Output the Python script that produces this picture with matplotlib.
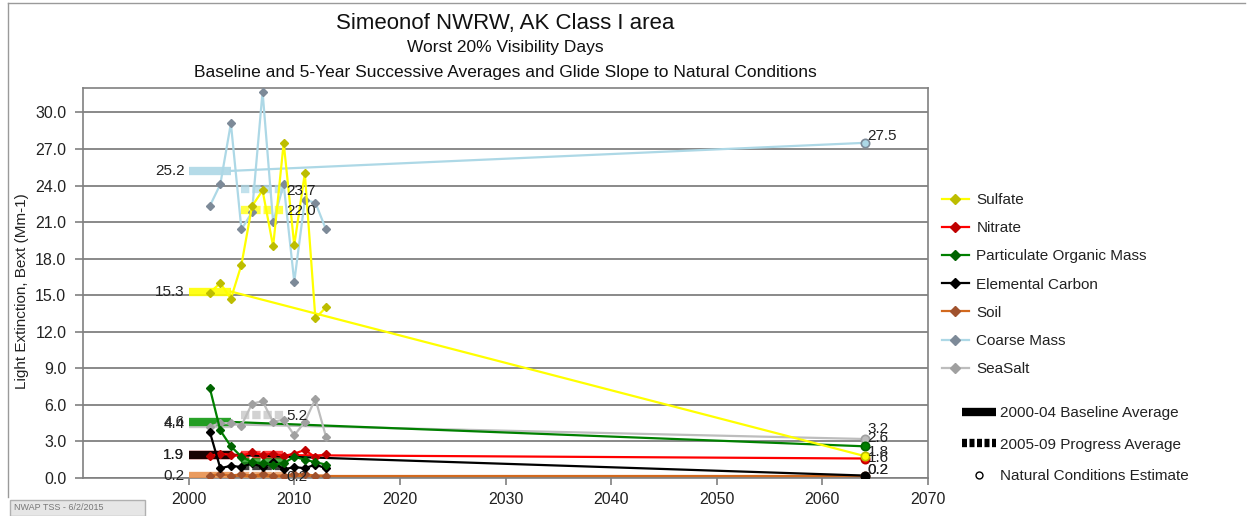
import matplotlib
matplotlib.use("Agg")
import matplotlib.pyplot as plt
from matplotlib.lines import Line2D
from matplotlib.patches import Rectangle

plt.rcParams['font.family'] = ['Liberation Sans', 'DejaVu Sans']

# ---------------- data ----------------
years = [2002, 2003, 2004, 2005, 2006, 2007, 2008, 2009, 2010, 2011, 2012, 2013]
species = ["Sulfate", "Nitrate", "Particulate Organic Mass", "Elemental Carbon",
           "Soil", "Coarse Mass", "SeaSalt"]

sulfate = [15.2, 16.0, 14.7, 17.5, 22.3, 23.6, 19.0, 27.5, 19.1, 25.0, 13.1, 14.0]
nitrate = [1.8, 2.0, 1.9, 1.8, 2.1, 1.9, 2.0, 1.8, 2.0, 2.3, 1.7, 2.0]
pom = [7.4, 3.9, 2.6, 1.75, 1.3, 1.2, 1.1, 1.2, 1.75, 1.5, 1.3, 1.1]
ec = [3.8, 0.8, 1.0, 0.9, 1.2, 0.9, 1.3, 0.7, 0.9, 0.8, 1.1, 0.8]
soil = [0.2, 0.3, 0.2, 0.3, 0.2, 0.3, 0.2, 0.2, 0.3, 0.3, 0.2, 0.2]
coarse = [22.3, 24.1, 29.1, 20.4, 21.8, 31.7, 21.0, 24.1, 16.1, 22.8, 22.6, 20.4]
seasalt = [4.2, 4.5, 4.5, 4.3, 6.1, 6.3, 4.6, 4.8, 3.5, 4.6, 6.5, 3.4]

baseline_avg = [15.3, 1.9, 4.6, 1.9, 0.2, 25.2, 4.4]
progress_avg = [22.0, 1.9, 1.3, 0.95, 0.2, 23.7, 5.2]
natural_est = [1.8, 1.6, 2.6, 0.2, 0.2, 27.5, 3.2]

baseline_years = [2000, 2004]
progress_years = [2005, 2009]
natural_year = 2064

# which labels are shown
show_baseline_label = [True, True, True, True, True, True, True]
show_progress_label = [True, False, False, False, True, True, True]
show_natural_label = [True, True, True, True, True, True, True]

series = [sulfate, nitrate, pom, ec, soil, coarse, seasalt]
line_colors = ["#FFFF00", "#FF0000", "#008000", "#000000", "#D2691E", "#ADD8E6", "#BDBDBD"]
marker_colors = ["#BDBD00", "#C00000", "#006400", "#000000", "#A0522D", "#7D8A98", "#A0A0A0"]
avg_colors = ["#FFFF00", "#FF0000", "#119911", "#000000", "#E8914F", "#ADD8E6", "#C4C4C4"]
zorders = [8, 5, 7, 6, 4, 2, 3]
nat_label_dy = [3, 0, 6, 4, 4, 5, 7]

# ---------------- figure ----------------
W, H = 1252, 516
fig = plt.figure(figsize=(W / 100, H / 100), dpi=100)
fig.patch.set_facecolor("white")

L, R, T, B = 83, 928, 88, 478
ax = fig.add_axes([L / W, 1 - B / H, (R - L) / W, (B - T) / H])
ax.set_xlim(1990, 2070)
ax.set_ylim(0, 32.0)

ax.set_yticks([0, 3, 6, 9, 12, 15, 18, 21, 24, 27, 30])
ax.set_yticklabels([f"{v:.1f}" for v in ax.get_yticks()])
ax.set_xticks(list(range(2000, 2071, 10)))
ax.grid(axis="y", color="#808080", linewidth=1.3)
ax.set_axisbelow(True)
for s in ax.spines.values():
    s.set_color("#808080")
    s.set_linewidth(1.2)
ax.tick_params(axis="y", length=6, width=1.2, color="#808080", pad=6, labelsize=11.5,
               labelcolor="#222222")
ax.tick_params(axis="x", length=5, width=1.2, color="#808080", pad=5, labelsize=11.5,
               labelcolor="#222222")
ax.set_ylabel("Light Extinction, Bext (Mm-1)", fontsize=11, color="#222222")
ax.yaxis.set_label_coords(-0.064, 0.48)

for i, name in enumerate(species):
    z = zorders[i]
    # annual values
    ax.plot(years, series[i], color=line_colors[i], linewidth=1.6, marker="D",
            markersize=4.5, markerfacecolor=marker_colors[i],
            markeredgecolor=marker_colors[i], zorder=z + 10)
    # baseline average
    ax.plot(baseline_years, [baseline_avg[i]] * 2, color=avg_colors[i],
            linewidth=6, solid_capstyle="butt", alpha=0.9, zorder=z)
    # progress average
    ax.plot(progress_years, [progress_avg[i]] * 2, color=avg_colors[i],
            linewidth=6, linestyle=(0, (1.0, 0.35)), dash_capstyle="butt",
            alpha=0.75, zorder=z)
    # glide slope
    ax.plot([baseline_years[1], natural_year], [baseline_avg[i], natural_est[i]],
            color=line_colors[i], linewidth=1.6, zorder=z)
    # natural conditions
    ax.plot([natural_year], [natural_est[i]], marker="o", markersize=6,
            markerfacecolor=line_colors[i], markeredgecolor=marker_colors[i],
            markeredgewidth=1.2, linestyle="none", zorder=z + 20)
    if show_baseline_label[i]:
        ax.annotate(f"{baseline_avg[i]:.1f}", (baseline_years[0], baseline_avg[i]),
                    xytext=(-3, 0), textcoords="offset points", ha="right",
                    va="center", fontsize=11, color="#222222", zorder=40)
    if show_progress_label[i]:
        ax.annotate(f"{progress_avg[i]:.1f}", (progress_years[1], progress_avg[i]),
                    xytext=(2, -1), textcoords="offset points", ha="left",
                    va="center", fontsize=11, color="#222222", zorder=40)
    if show_natural_label[i]:
        ax.annotate(f"{natural_est[i]:.1f}", (natural_year, natural_est[i]),
                    xytext=(2, nat_label_dy[i]), textcoords="offset points", ha="left",
                    va="center", fontsize=11, color="#222222", zorder=40)

# ---------------- titles ----------------
cx = (L + R) / 2 / W
fig.text(cx, 1 - 23 / H, "Simeonof NWRW, AK Class I area", ha="center", va="center",
         fontsize=16, color="#111111")
fig.text(cx, 1 - 48 / H, "Worst 20% Visibility Days", ha="center", va="center",
         fontsize=12.5, color="#111111")
fig.text(cx, 1 - 72 / H,
         "Baseline and 5-Year Successive Averages and Glide Slope to Natural Conditions",
         ha="center", va="center", fontsize=12.5, color="#111111")

# ---------------- legends ----------------
h1 = [Line2D([], [], color=line_colors[i], linewidth=1.6, marker="D", markersize=5,
             markerfacecolor=marker_colors[i], markeredgecolor=marker_colors[i])
      for i in range(len(species))]
leg1 = fig.legend(h1, species, loc="upper left", bbox_to_anchor=(942 / W, 1 - 193 / H),
                  frameon=False, fontsize=11, handlelength=1.75, handletextpad=0.5,
                  labelspacing=0.93, borderpad=0, borderaxespad=0)
for t in leg1.get_texts():
    t.set_color("#222222")

h2 = [Line2D([], [], color="black", linewidth=6, solid_capstyle="butt"),
      Line2D([], [], color="black", linewidth=6, linestyle=(0, (0.6, 0.3)),
             dash_capstyle="butt"),
      Line2D([], [], color="black", marker="o", markersize=5, markerfacecolor="white",
             linestyle="none")]
leg2 = fig.legend(h2, ["2000-04 Baseline Average", "2005-09 Progress Average",
                       "Natural Conditions Estimate"],
                  loc="upper left", bbox_to_anchor=(962 / W, 1 - 406 / H),
                  frameon=False, fontsize=11, handlelength=2.2, handletextpad=0.3,
                  labelspacing=1.15, borderpad=0, borderaxespad=0)
for t in leg2.get_texts():
    t.set_color("#222222")

# ---------------- outer frame & footer ----------------
fig.add_artist(Line2D([8 / W, 8 / W], [1 - 497 / H, 1 - 3 / H], transform=fig.transFigure,
                      color="#9A9A9A", linewidth=1))
fig.add_artist(Line2D([8 / W, 1245 / W], [1 - 3 / H, 1 - 3 / H], transform=fig.transFigure,
                      color="#9A9A9A", linewidth=1))
fig.add_artist(Rectangle((10 / W, 0), 135 / W, 16 / H, transform=fig.transFigure,
                         facecolor="#E6E6E6", edgecolor="#B0B0B0", linewidth=1))
fig.text(14 / W, 8 / H, "NWAP TSS - 6/2/2015", fontsize=6.5, color="#777777",
         ha="left", va="center")

fig.savefig("out.png", dpi=100, facecolor="white")
